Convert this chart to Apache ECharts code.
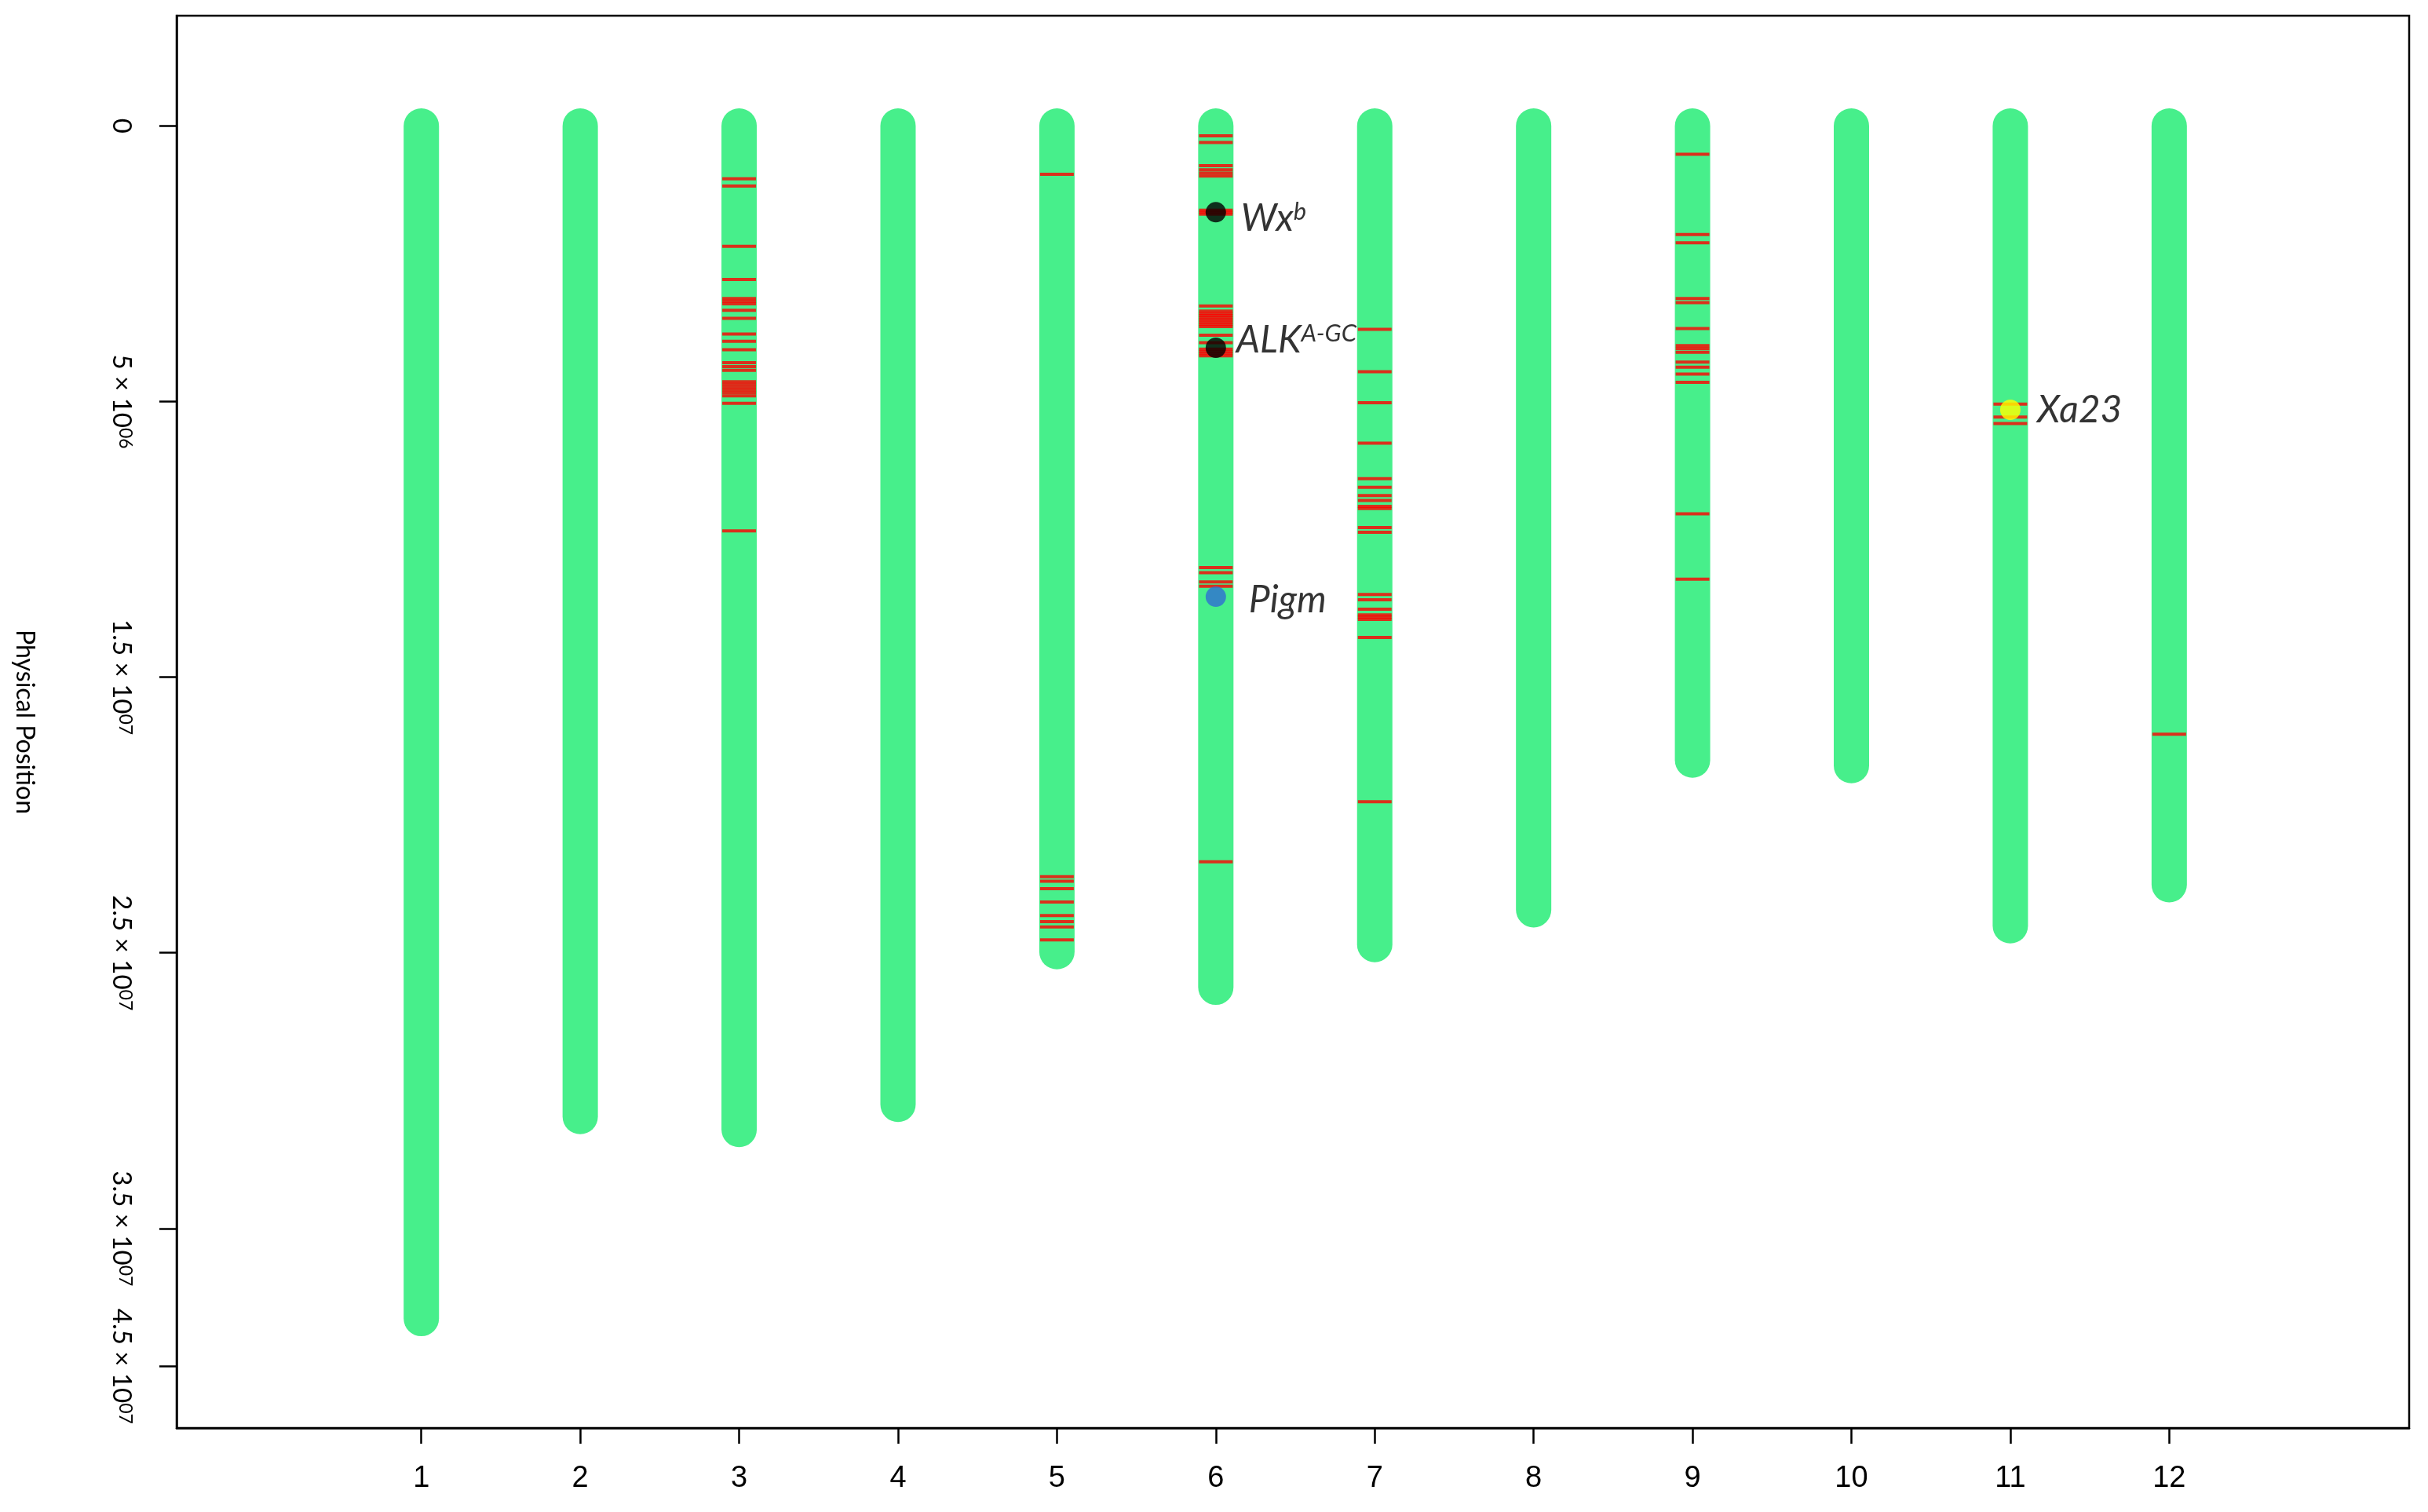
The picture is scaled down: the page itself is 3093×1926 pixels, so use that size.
<!DOCTYPE html>
<html><head><meta charset="utf-8">
<script src="https://cdn.jsdelivr.net/npm/echarts@6/dist/echarts.min.js"></script>
<style>html,body{margin:0;padding:0;background:#fff}#c{width:3093px;height:1926px}</style>
</head><body><div id="c"></div>
<script>
// ---- data (positions in Mb) ----
const chromosomes = [1, 2, 3, 4, 5, 6, 7, 8, 9, 10, 11, 12];
const chromLengths = [43.27, 35.94, 36.41, 35.50, 29.96, 31.25, 29.70, 28.44, 23.01, 23.21, 29.02, 27.53];

const markersChr3 = [1.92, 2.18, 4.37, 5.57, 6.26, 6.36, 6.45, 6.69, 6.98, 7.55, 7.81, 8.12, 8.59, 8.73, 8.87, 9.28, 9.38, 9.48, 9.58, 9.68, 9.79, 10.06, 14.69];
const markersChr5 = [1.75, 27.24, 27.40, 27.67, 28.16, 28.65, 28.87, 29.06, 29.53];
const markersChr6 = [0.36, 0.60, 1.44, 1.59, 1.71, 1.82, 3.06, 3.13, 3.20, 6.53, 6.72, 6.80, 6.88, 6.96, 7.04, 7.12, 7.20, 7.28, 7.59, 7.86, 8.10, 8.18, 8.26, 8.34, 16.02, 16.21, 16.54, 16.70, 26.70];
const markersChr7 = [7.38, 8.92, 10.04, 11.51, 12.80, 13.11, 13.41, 13.59, 13.80, 13.88, 14.57, 14.74, 17.00, 17.19, 17.53, 17.74, 17.82, 17.90, 18.56, 24.52];
const markersChr9 = [1.03, 3.94, 4.24, 6.26, 6.41, 7.35, 7.97, 8.08, 8.21, 8.57, 8.75, 9.00, 9.30, 14.07, 16.44];
const markersChr11 = [10.09, 10.56, 10.80];
const markersChr12 = [22.07];

const geneNames = ['Wx', 'ALK', 'Pigm', 'Xa23'];
const geneSup = ['b', 'A-GC', '', ''];
const geneChr = [6, 6, 6, 11];
const genePos = [3.13, 8.05, 17.08, 10.30];

const yTickValues = [0, 10, 20, 30, 40, 45];
const yTickBase = ['0', '5 × 10', '1.5 × 10', '2.5 × 10', '3.5 × 10', '4.5 × 10'];
const yTickExp = ['', '06', '07', '07', '07', '07'];
const xTickLabels = ['1', '2', '3', '4', '5', '6', '7', '8', '9', '10', '11', '12'];

// ---- styles ----
const geneColors = ['#000000', '#000000', '#2f6ed2', '#ffff00'];
const geneLabelOffset = [[0, 8], [-6, -10], [10, 4], [2, 0]];

const markerSets = [[3, markersChr3], [5, markersChr5], [6, markersChr6], [7, markersChr7], [9, markersChr9], [11, markersChr11], [12, markersChr12]];
const markerData = [];
markerSets.forEach(([c, arr]) => arr.forEach(p => markerData.push([c, p])));

const chart = echarts.init(document.getElementById('c'), null, {renderer: 'canvas'});
const option = {
  backgroundColor: '#ffffff',
  animation: false,
  grid: {left: 225, right: 24, top: 20, bottom: 107, show: true, borderColor: '#000', borderWidth: 2.5, backgroundColor: 'transparent'},
  xAxis: {
    type: 'value', min: -0.54, max: 13.51, position: 'bottom',
    axisLine: {show: true, onZero: false, lineStyle: {color: '#000', width: 2.5}},
    splitLine: {show: false},
    axisTick: {show: true, length: 20, lineStyle: {color: '#000', width: 2.5}, customValues: chromosomes},
    axisLabel: {
      customValues: chromosomes, margin: 46,
      formatter: v => xTickLabels[chromosomes.indexOf(v)],
      fontFamily: '"Liberation Sans Narrow", "Liberation Sans", sans-serif', fontSize: 38, color: '#000'
    }
  },
  yAxis: {
    type: 'value', inverse: true, min: -4, max: 47.24, position: 'left',
    name: 'Physical Position', nameLocation: 'middle', nameRotate: -90, nameGap: 178,
    nameTextStyle: {fontFamily: 'Lato, sans-serif', fontSize: 32, color: '#000'},
    axisLine: {show: true, onZero: false, lineStyle: {color: '#000', width: 2.5}},
    splitLine: {show: false},
    axisTick: {show: true, length: 22, lineStyle: {color: '#000', width: 2.5}, customValues: yTickValues},
    axisLabel: {
      customValues: yTickValues, rotate: -90, margin: 54,
      formatter: v => {
        const i = yTickValues.indexOf(v);
        return yTickExp[i] ? '{b|' + yTickBase[i] + '}{s|' + yTickExp[i] + '}' : '{b|' + yTickBase[i] + '}';
      },
      rich: {
        b: {fontFamily: 'Lato, sans-serif', fontSize: 33, color: '#000'},
        s: {fontFamily: 'Lato, sans-serif', fontSize: 23, color: '#000', verticalAlign: 'top'}
      }
    }
  },
  series: [
    {
      type: 'custom', z: 1,
      data: chromosomes.map((c, i) => [c, chromLengths[i]]),
      renderItem: (params, api) => {
        const a = api.coord([api.value(0), 0]);
        const b = api.coord([api.value(0), api.value(1)]);
        return {type: 'line', shape: {x1: a[0], y1: a[1], x2: b[0], y2: b[1]},
          style: {stroke: '#47ef8b', lineWidth: 45, lineCap: 'round'}};
      }
    },
    {
      type: 'scatter', z: 2, symbol: 'rect', symbolSize: [43, 4],
      itemStyle: {color: '#ff0000'}, data: markerData
    },
    {
      type: 'scatter', z: 3, symbol: 'circle', symbolSize: 26,
      data: geneNames.map((n, i) => ({
        value: [geneChr[i], genePos[i]],
        itemStyle: {color: geneColors[i]},
        label: {
          show: true, position: 'right', distance: 19, offset: geneLabelOffset[i],
          formatter: geneSup[i] ? '{m|' + n + '}{s|' + geneSup[i] + '}' : '{m|' + n + '}',
          rich: {
            m: {fontFamily: 'Lato, sans-serif', fontStyle: 'italic', fontSize: 48, color: '#000'},
            s: {fontFamily: 'Lato, sans-serif', fontStyle: 'italic', fontSize: 31, color: '#000', verticalAlign: 'top'}
          }
        }
      }))
    }
  ]
};
chart.setOption(option);
</script>
</body></html>
